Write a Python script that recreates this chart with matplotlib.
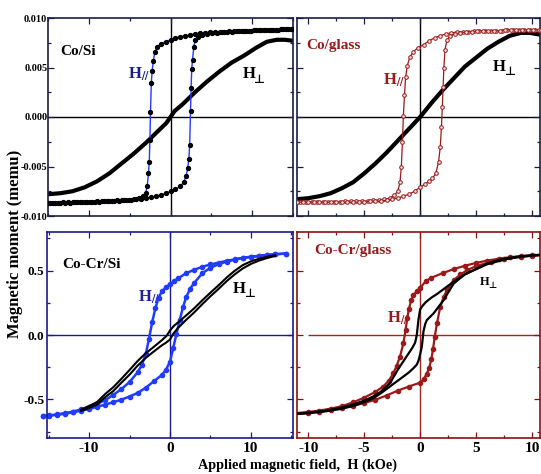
import matplotlib
matplotlib.use("Agg")
import matplotlib.pyplot as plt
from matplotlib.ticker import MultipleLocator, FormatStrFormatter

plt.rcParams["font.family"] = "Liberation Serif"
plt.rcParams["font.weight"] = "bold"
plt.rcParams["axes.unicode_minus"] = False
plt.rcParams["mathtext.fontset"] = "stix"

# ── palette ──────────────────────────────────────────────────────────
NAVY_DK = "#1c1c44"
NAVY = "#1a1a8a"
BLUE = "#1f3cff"
DRED = "#9a1a1a"
DRED_SP = "#8c1212"

# ── Co/Si : in-plane loop (H//) ──────────────────────────────────────
cosi_par_dn_h = [15.0, 14.4, 13.8, 13.2, 12.6, 12.0, 11.4, 10.8, 10.2, 9.6,
                 9.0, 8.4, 7.8, 7.2, 6.6, 6.0, 5.4, 4.8, 4.2, 3.6,
                 3.0, 2.4, 1.8, 1.2, 0.6, 0.0, -0.6, -1.2, -1.6, -1.9,
                 -2.1, -2.25, -2.35, -2.45, -2.52, -2.6, -2.7, -2.85, -3.05, -3.4,
                 -3.9, -4.5, -5.1, -5.7, -6.3, -6.9, -7.5, -8.1, -8.7, -9.3,
                 -9.9, -10.5, -11.1, -11.7, -12.3, -12.9, -13.5, -14.1, -14.7, -15.0]
cosi_par_dn_m = [0.0089, 0.0089, 0.0089, 0.0088, 0.0088, 0.0088, 0.0088, 0.0088, 0.0088, 0.0087,
                 0.0087, 0.0087, 0.0087, 0.0087, 0.0086, 0.0086, 0.0086, 0.0086, 0.0085, 0.0085,
                 0.0084, 0.0083, 0.0082, 0.0081, 0.0080, 0.0078, 0.0076, 0.0074, 0.0071, 0.0066,
                 0.0057, 0.0046, 0.0034, 0.0005, -0.0023, -0.0045, -0.0057, -0.0070, -0.0077, -0.0080,
                 -0.0082, -0.0083, -0.0084, -0.0084, -0.0085, -0.0085, -0.0085, -0.0085, -0.0086, -0.0086,
                 -0.0086, -0.0086, -0.0086, -0.0086, -0.0087, -0.0087, -0.0087, -0.0087, -0.0087, -0.0087]
cosi_par_up_h = [-15.0, -14.4, -13.8, -13.2, -12.6, -12.0, -11.4, -10.8, -10.2, -9.6,
                 -9.0, -8.4, -7.8, -7.2, -6.6, -6.0, -5.4, -4.8, -4.2, -3.6,
                 -3.0, -2.4, -1.8, -1.2, -0.6, 0.0, 0.6, 1.2, 1.6, 1.9,
                 2.1, 2.25, 2.35, 2.45, 2.52, 2.6, 2.7, 2.85, 3.05, 3.4,
                 3.9, 4.5, 5.1, 5.7, 6.3, 6.9, 7.5, 8.1, 8.7, 9.3,
                 9.9, 10.5, 11.1, 11.7, 12.3, 12.9, 13.5, 14.1, 14.7, 15.0]
cosi_par_up_m = [-0.0087, -0.0087, -0.0087, -0.0086, -0.0086, -0.0086, -0.0086, -0.0086, -0.0086, -0.0086,
                 -0.0085, -0.0085, -0.0085, -0.0085, -0.0084, -0.0084, -0.0084, -0.0084, -0.0083, -0.0083,
                 -0.0082, -0.0081, -0.0080, -0.0079, -0.0077, -0.0075, -0.0073, -0.0070, -0.0066, -0.0060,
                 -0.0052, -0.0042, -0.0028, 0.0006, 0.0029, 0.0048, 0.0058, 0.0071, 0.0078, 0.0081,
                 0.0083, 0.0084, 0.0085, 0.0085, 0.0086, 0.0086, 0.0086, 0.0087, 0.0087, 0.0087,
                 0.0087, 0.0088, 0.0088, 0.0088, 0.0088, 0.0088, 0.0089, 0.0089, 0.0089, 0.0089]

# ── Co/Si : perpendicular (H⊥) ───────────────────────────────────────
cosi_perp_h = [-15.0, -13.5, -12.0, -10.5, -9.0, -7.5, -6.0, -4.5, -3.0, -1.5, -0.5, 0.0,
               0.5, 1.5, 3.0, 4.5, 6.0, 7.5, 9.0, 10.5, 11.8, 13.0, 14.0, 15.0]
cosi_perp_m = [-0.0078, -0.0077, -0.0075, -0.0071, -0.0065, -0.0057, -0.0047, -0.0037, -0.0026, -0.0014, -0.0006, 0.0,
               0.0006, 0.0013, 0.0025, 0.0036, 0.0046, 0.0055, 0.0062, 0.0070, 0.0076, 0.0078, 0.0078, 0.0077]

# ── Co/glass : in-plane loop ─────────────────────────────────────────
cogl_par_dn_h = [10.8, 10.3, 9.8, 9.3, 8.8, 8.3, 7.8, 7.3, 6.8, 6.3,
                 5.8, 5.3, 4.8, 4.3, 3.8, 3.3, 2.8, 2.3, 1.8, 1.3,
                 0.8, 0.3, -0.2, -0.6, -0.9, -1.15, -1.3, -1.4, -1.5, -1.58,
                 -1.68, -1.8, -2.0, -2.3, -2.7, -3.2, -3.7, -4.2, -4.7, -5.2,
                 -5.7, -6.2, -6.7, -7.2, -7.7, -8.2, -8.7, -9.2, -9.7, -10.2,
                 -10.7, -11.0]
cogl_par_dn_m = [0.0088, 0.0088, 0.0088, 0.0088, 0.0088, 0.0088, 0.0088, 0.0087, 0.0087, 0.0087,
                 0.0087, 0.0087, 0.0087, 0.0086, 0.0086, 0.0086, 0.0085, 0.0084, 0.0082, 0.0080,
                 0.0077, 0.0073, 0.0070, 0.0066, 0.0061, 0.0052, 0.0040, 0.0022, 0.0001, -0.0025,
                 -0.0050, -0.0066, -0.0075, -0.0079, -0.0082, -0.0083, -0.0084, -0.0084, -0.0085, -0.0085,
                 -0.0085, -0.0085, -0.0085, -0.0086, -0.0086, -0.0086, -0.0086, -0.0086, -0.0086, -0.0086,
                 -0.0086, -0.0086]
cogl_par_up_h = [-11.0, -10.5, -10.0, -9.5, -9.0, -8.5, -8.0, -7.5, -7.0, -6.5,
                 -6.0, -5.5, -5.0, -4.5, -4.0, -3.5, -3.0, -2.5, -2.0, -1.5,
                 -1.0, -0.5, 0.0, 0.4, 0.8, 1.1, 1.4, 1.65, 1.8, 1.9,
                 1.98, 2.05, 2.12, 2.22, 2.4, 2.7, 3.1, 3.6, 4.1, 4.6,
                 5.1, 5.6, 6.1, 6.6, 7.1, 7.6, 8.1, 8.6, 9.1, 9.6,
                 10.1, 10.6, 10.8]
cogl_par_up_m = [-0.0086, -0.0086, -0.0086, -0.0086, -0.0086, -0.0086, -0.0086, -0.0086, -0.0086, -0.0086,
                 -0.0086, -0.0086, -0.0086, -0.0085, -0.0085, -0.0085, -0.0084, -0.0083, -0.0082, -0.0080,
                 -0.0078, -0.0075, -0.0071, -0.0068, -0.0065, -0.0062, -0.0057, -0.0045, -0.0030, -0.0010,
                 0.0010, 0.0030, 0.0050, 0.0068, 0.0078, 0.0082, 0.0084, 0.0085, 0.0086, 0.0086,
                 0.0087, 0.0087, 0.0087, 0.0087, 0.0087, 0.0088, 0.0088, 0.0088, 0.0088, 0.0088,
                 0.0088, 0.0088, 0.0088]

cogl_perp_h = [-11.0, -10.0, -9.0, -8.0, -7.0, -6.0, -5.0, -4.0, -3.0, -2.0, -1.0, 0.0,
               1.0, 2.0, 3.0, 4.0, 5.0, 6.0, 7.0, 8.0, 9.0, 9.8, 10.8]
cogl_perp_m = [-0.0083, -0.0082, -0.0080, -0.0077, -0.0072, -0.0066, -0.0057, -0.0047, -0.0036, -0.0024, -0.0012, 0.0,
               0.0014, 0.0027, 0.0039, 0.0051, 0.0060, 0.0069, 0.0076, 0.0082, 0.0085, 0.0085, 0.0083]

# ── Co-Cr/Si ─────────────────────────────────────────────────────────
cocrsi_par_dn_h = [14.3, 13.0, 12.0, 11.0, 10.0, 9.0, 8.0, 7.0, 6.0, 5.0,
                   4.0, 3.0, 2.0, 1.0, 0.5, 0.0, -0.5, -1.0, -1.4, -1.8,
                   -2.2, -2.6, -3.0, -3.5, -4.0, -5.0, -6.0, -7.0, -8.0, -9.0,
                   -10.0, -11.0, -12.0, -13.0, -14.0, -15.0, -15.7]
cocrsi_par_dn_m = [0.633, 0.626, 0.620, 0.614, 0.608, 0.599, 0.588, 0.576, 0.562, 0.548,
                   0.530, 0.507, 0.480, 0.440, 0.418, 0.395, 0.370, 0.340, 0.290, 0.210,
                   0.100, -0.030, -0.150, -0.235, -0.290, -0.365, -0.420, -0.465, -0.505, -0.535,
                   -0.558, -0.578, -0.595, -0.607, -0.617, -0.625, -0.630]
cocrsi_par_up_h = [-15.7, -15.0, -14.0, -13.0, -12.0, -11.0, -10.0, -9.0, -8.0, -7.0,
                   -6.0, -5.0, -4.0, -3.0, -2.0, -1.0, -0.5, 0.0, 0.4, 0.8,
                   1.2, 1.6, 2.0, 2.5, 3.0, 4.0, 5.0, 6.0, 7.0, 8.0,
                   9.0, 10.0, 11.0, 12.0, 13.0, 14.3]
cocrsi_par_up_m = [-0.630, -0.627, -0.620, -0.612, -0.600, -0.588, -0.574, -0.558, -0.540, -0.522,
                   -0.502, -0.478, -0.450, -0.410, -0.360, -0.310, -0.270, -0.207, -0.100, 0.010,
                   0.115, 0.215, 0.295, 0.360, 0.405, 0.480, 0.522, 0.550, 0.570, 0.585,
                   0.598, 0.607, 0.615, 0.622, 0.628, 0.633]

cocrsi_perp_dn_h = [13.0, 12.0, 11.0, 10.0, 9.0, 8.0, 7.0, 6.0, 5.0, 4.0,
                    3.0, 2.0, 1.0, 0.5, 0.0, -0.4, -1.0, -2.0, -3.0, -4.0,
                    -5.0, -6.0, -7.0, -8.0, -9.0, -10.0, -11.0]
cocrsi_perp_dn_m = [0.620, 0.608, 0.592, 0.572, 0.543, 0.499, 0.446, 0.386, 0.329, 0.270,
                    0.208, 0.152, 0.098, 0.072, 0.035, -0.005, -0.040, -0.092, -0.142, -0.202,
                    -0.272, -0.340, -0.405, -0.458, -0.520, -0.552, -0.580]
cocrsi_perp_up_h = [-11.0, -10.0, -9.0, -8.0, -7.0, -6.0, -5.0, -4.0, -3.0, -2.0,
                    -1.0, -0.5, 0.0, 0.4, 1.0, 2.0, 3.0, 4.0, 5.0, 6.0,
                    7.0, 8.0, 9.0, 10.0, 11.0, 12.0, 13.0]
cocrsi_perp_up_m = [-0.590, -0.568, -0.540, -0.482, -0.435, -0.370, -0.308, -0.238, -0.178, -0.128,
                    -0.080, -0.060, -0.035, 0.010, 0.055, 0.118, 0.176, 0.240, 0.301, 0.358,
                    0.418, 0.471, 0.517, 0.552, 0.578, 0.598, 0.614]

# ── Co-Cr/glass ──────────────────────────────────────────────────────
cocrgl_par_dn_h = [11.5, 10.0, 9.0, 8.0, 7.0, 6.0, 5.0, 4.0, 3.0, 2.0,
                   1.0, 0.5, 0.0, -0.3, -0.6, -0.8, -1.0, -1.15, -1.3, -1.5,
                   -1.8, -2.1, -2.4, -2.8, -3.3, -4.0, -5.0, -6.0, -7.0, -8.0,
                   -9.0, -10.0, -11.5]
cocrgl_par_dn_m = [0.625, 0.618, 0.612, 0.604, 0.592, 0.578, 0.560, 0.538, 0.512, 0.480,
                   0.445, 0.418, 0.365, 0.340, 0.310, 0.270, 0.205, 0.130, 0.040, -0.065,
                   -0.168, -0.240, -0.297, -0.355, -0.400, -0.442, -0.487, -0.523, -0.553, -0.572,
                   -0.587, -0.598, -0.610]
cocrgl_par_up_h = [-11.5, -10.0, -9.0, -8.0, -7.0, -6.0, -5.0, -4.0, -3.0, -2.0,
                   -1.0, 0.0, 0.3, 0.6, 0.8, 1.0, 1.15, 1.3, 1.5, 1.8,
                   2.1, 2.4, 3.0, 3.6, 4.2, 5.0, 6.3, 7.5, 9.0, 10.0,
                   11.5]
cocrgl_par_up_m = [-0.612, -0.605, -0.595, -0.583, -0.568, -0.550, -0.528, -0.503, -0.470, -0.432,
                   -0.400, -0.370, -0.345, -0.300, -0.255, -0.190, -0.110, -0.015, 0.090, 0.220,
                   0.295, 0.349, 0.426, 0.470, 0.504, 0.535, 0.568, 0.590, 0.607, 0.615,
                   0.625]

cocrgl_perp_dn_h = [11.5, 10.0, 9.0, 8.0, 7.0, 6.0, 5.0, 4.0, 3.0, 2.0,
                    1.5, 1.0, 0.5, 0.2, 0.0, -0.15, -0.3, -0.45, -0.7, -1.2,
                    -2.0, -2.7, -3.5, -4.2, -5.0, -6.0, -7.2, -8.6, -10.0, -11.5]
cocrgl_perp_dn_m = [0.627, 0.620, 0.612, 0.600, 0.583, 0.555, 0.512, 0.470, 0.415, 0.350,
                    0.318, 0.290, 0.255, 0.225, 0.200, 0.120, 0.000, -0.060, -0.100, -0.165,
                    -0.270, -0.375, -0.440, -0.478, -0.510, -0.540, -0.568, -0.590, -0.603, -0.613]
cocrgl_perp_up_h = [-11.5, -10.0, -8.6, -7.2, -6.0, -5.0, -4.2, -3.5, -2.7, -2.0,
                    -1.5, -1.0, -0.6, -0.3, -0.15, 0.0, 0.15, 0.3, 0.45, 0.6,
                    1.2, 2.1, 2.5, 3.0, 4.0, 4.8, 6.0, 7.7, 9.0, 10.0,
                    11.5]
cocrgl_perp_up_m = [-0.617, -0.608, -0.595, -0.576, -0.552, -0.522, -0.492, -0.452, -0.400, -0.355,
                    -0.323, -0.290, -0.258, -0.230, -0.200, -0.150, -0.090, 0.030, 0.085, 0.116,
                    0.168, 0.271, 0.330, 0.400, 0.472, 0.505, 0.550, 0.590, 0.608, 0.617,
                    0.625]

# ── canvas ───────────────────────────────────────────────────────────
W, H = 541, 474
fig = plt.figure(figsize=(W / 100, H / 100), dpi=100)
fig.patch.set_facecolor("white")


def px_axes(x0, y0, x1, y1):
    return fig.add_axes([x0 / W, 1 - y1 / H, (x1 - x0) / W, (y1 - y0) / H])


ax_tl = px_axes(48, 18, 293, 216)
ax_tr = px_axes(297, 18, 540.5, 216)
ax_bl = px_axes(47, 232, 293, 438)
ax_br = px_axes(297, 232, 540.5, 438)


def style(ax, spine_c, xmaj, xmin, ymaj, ymin, yfmt=None, xlabels=True, ylabels=True):
    for s in ax.spines.values():
        s.set_color(spine_c)
        s.set_linewidth(1.2)
    ax.xaxis.set_major_locator(MultipleLocator(xmaj))
    ax.xaxis.set_minor_locator(MultipleLocator(xmin))
    ax.yaxis.set_major_locator(MultipleLocator(ymaj))
    ax.yaxis.set_minor_locator(MultipleLocator(ymin))
    ax.tick_params(which="both", direction="in", top=True, right=True,
                   color=spine_c, width=0.9)
    ax.tick_params(which="major", length=4)
    ax.tick_params(which="minor", length=2.5)
    ax.tick_params(axis="x", labelsize=11, pad=3)
    ax.tick_params(axis="y", labelsize=9, pad=1)
    if yfmt:
        ax.yaxis.set_major_formatter(FormatStrFormatter(yfmt))
    if not xlabels:
        ax.tick_params(axis="x", labelbottom=False)
    if not ylabels:
        ax.tick_params(axis="y", labelleft=False)
    for lab in ax.get_xticklabels() + ax.get_yticklabels():
        lab.set_fontweight("bold")


def h_par(ax, x, y, color, size=12):
    ax.text(x, y, r"H$_{//}$", fontsize=size, fontweight="bold",
            color=color, va="center")


def h_perp(ax, x, y, size=12):
    # plain H followed by a lowered ⊥ (drawn in DejaVu, which has the glyph)
    ax.annotate("H", (x, y), fontsize=size, fontweight="bold", va="center")
    ax.annotate("\u22a5", (x, y), xytext=(0.72 * size, -0.28 * size),
                textcoords="offset points", fontsize=0.72 * size,
                fontweight="bold", family="DejaVu Sans", va="center")


# ── Co/Si ────────────────────────────────────────────────────────────
ax = ax_tl
ax.set_xlim(-15, 15); ax.set_ylim(-0.010, 0.010)
ax.axhline(0, color="black", lw=1.0, zorder=1)
ax.axvline(0, color="black", lw=1.0, zorder=1)
ax.plot(cosi_perp_h, cosi_perp_m, color="black", lw=3.0, zorder=2)
for hh, mm in [(cosi_par_dn_h, cosi_par_dn_m), (cosi_par_up_h, cosi_par_up_m)]:
    ax.plot(hh, mm, color=BLUE, lw=1.0, marker="o", ms=2.8,
            mfc="black", mec="black", zorder=3)
style(ax, NAVY_DK, 10, 5, 0.005, 0.0025, yfmt="%.3f", xlabels=False)
ax.tick_params(axis="y", labelsize=7.5, pad=0.5)
ax.text(-13.5, 0.0066, "Co/Si", fontsize=11, fontweight="bold", va="center")
h_par(ax, -5.2, 0.0043, "#1a1a9a")
h_perp(ax, 8.8, 0.0043)

# ── Co/glass ─────────────────────────────────────────────────────────
ax = ax_tr
ax.set_xlim(-11, 10.75); ax.set_ylim(-0.010, 0.010)
ax.axhline(0, color="black", lw=1.0, zorder=1)
ax.axvline(0, color="black", lw=1.0, zorder=1)
ax.plot(cogl_perp_h, cogl_perp_m, color="black", lw=3.0, zorder=2)
for hh, mm in [(cogl_par_dn_h, cogl_par_dn_m), (cogl_par_up_h, cogl_par_up_m)]:
    ax.plot(hh, mm, color=DRED, lw=0.9, marker="o", ms=2.6, mfc="#f4dede",
            mec=DRED, mew=0.7, zorder=3)
style(ax, NAVY_DK, 5, 2.5, 0.005, 0.0025, xlabels=False, ylabels=False)
ax.text(-10.2, 0.0072, "Co/glass", fontsize=11, fontweight="bold",
        color=DRED, va="center")
h_par(ax, -3.3, 0.0037, DRED)
h_perp(ax, 6.5, 0.0051)

# ── Co-Cr/Si ─────────────────────────────────────────────────────────
ax = ax_bl
ax.set_xlim(-15.2, 15.2); ax.set_ylim(-0.8, 0.8)
ax.axhline(0, color=NAVY, lw=1.0, zorder=1)
ax.axvline(0, color=NAVY, lw=1.0, zorder=1)
for hh, mm in [(cocrsi_par_dn_h, cocrsi_par_dn_m), (cocrsi_par_up_h, cocrsi_par_up_m)]:
    ax.plot(hh, mm, color=BLUE, lw=1.8, marker="o", ms=3.0, mfc=BLUE,
            mec=BLUE, zorder=2, clip_on=False)
for hh, mm in [(cocrsi_perp_dn_h, cocrsi_perp_dn_m), (cocrsi_perp_up_h, cocrsi_perp_up_m)]:
    ax.plot(hh, mm, color="black", lw=1.5, zorder=3)
style(ax, NAVY, 10, 5, 0.5, 0.25, yfmt="%.1f")
ax.tick_params(axis="y", labelsize=9.5, pad=2)
ax.text(-13.3, 0.55, "Co-Cr/Si", fontsize=11, fontweight="bold", va="center")
h_par(ax, -3.9, 0.29, "#1f1fa8")
h_perp(ax, 7.8, 0.36)

# ── Co-Cr/glass ──────────────────────────────────────────────────────
ax = ax_br
ax.set_xlim(-11, 10.75); ax.set_ylim(-0.8, 0.8)
ax.hlines(0, -10, 10.75, color="#a02424", lw=1.0, zorder=1)
ax.axvline(0, color="#a02424", lw=1.0, zorder=1)
for hh, mm in [(cocrgl_par_dn_h, cocrgl_par_dn_m), (cocrgl_par_up_h, cocrgl_par_up_m)]:
    ax.plot(hh, mm, color=DRED, lw=1.6, marker="o", ms=3.0, mfc=DRED,
            mec=DRED, zorder=2)
for hh, mm in [(cocrgl_perp_dn_h, cocrgl_perp_dn_m), (cocrgl_perp_up_h, cocrgl_perp_up_m)]:
    ax.plot(hh, mm, color="black", lw=1.6, zorder=3)
style(ax, DRED_SP, 5, 2.5, 0.5, 0.25, ylabels=False)
ax.text(-9.5, 0.66, "Co-Cr/glass", fontsize=11, fontweight="bold",
        color=DRED, va="center")
h_par(ax, -3.0, 0.13, DRED)
h_perp(ax, 5.3, 0.41, size=9)

# ── shared axis labels ───────────────────────────────────────────────
fig.text(298 / W, 1 - 465 / H, "Applied magnetic field,  H (kOe)",
         ha="center", va="center", fontsize=10.3, fontweight="bold")
fig.text(15 / W, 1 - 244 / H, "Magnetic moment (memu)", rotation=90,
         ha="center", va="center", fontsize=12, fontweight="bold")

fig.savefig("out.png", dpi=100, facecolor="white")
plt.close()
